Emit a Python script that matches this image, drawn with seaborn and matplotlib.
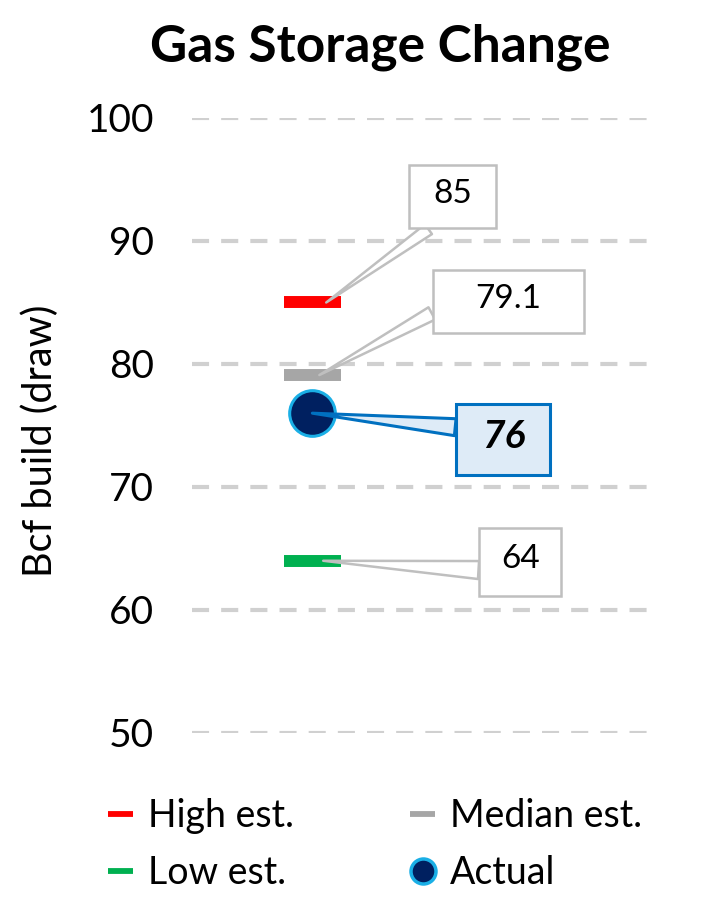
"""
Gas storage change: weekly estimates vs actual, with Excel-style callouts.
Output: out.png
"""

import matplotlib.pyplot as plt
import pandas as pd
import seaborn as sns
from matplotlib.lines import Line2D
from matplotlib.path import Path

# Data
SERIES = ["High est.", "Median est.", "Low est."]
ESTIMATES = [85, 79.1, 64]
ACTUAL_LABEL = "Actual"
ACTUAL = 76
CALLOUT_TEXT = ["85", "79.1", "64"]
ACTUAL_TEXT = "76"
Y_TICKS = [50, 60, 70, 80, 90, 100]

# Styles
COLORS = {"High est.": "#FF0000", "Median est.": "#A6A6A6", "Low est.": "#00B050"}
NAVY = "#002060"
LIGHT_BLUE = "#1AAFE6"
CALLOUT_GRAY = "#BFBFBF"
FS = 24
LEGEND_FS = 27

# callout geometry: tip x nudge (data), text offset (pt), box size (px), relpos, tail width
CALLOUT_GEOM = {
    "High est.": (0.115, (91, 78), (87, 63), (0.6, 0.0), 1.2),
    "Median est.": (0.058, (136, 55), (151, 63), (0.0, 0.8), 1.4),
    "Low est.": (0.09, (142, 1), (82, 68), (0.0, 0.1), 1.8),
}
ACTUAL_GEOM = (0.0, (137.5, -17), (94, 71), (0.0, 0.7), 1.7)


def fixed_box(w_px, h_px, dpi):
    """Box style of fixed pixel size centred on the text."""
    w = w_px * dpi / 100
    h = h_px * dpi / 100

    def box(x0, y0, width, height, mutation_size):
        cx = x0 + width / 2
        cy = y0 + height / 2 - 0.08 * mutation_size
        verts = [
            (cx - w / 2, cy - h / 2),
            (cx + w / 2, cy - h / 2),
            (cx + w / 2, cy + h / 2),
            (cx - w / 2, cy + h / 2),
            (cx - w / 2, cy - h / 2),
        ]
        return Path(verts, closed=True)

    return box


sns.set_theme(style="white")
plt.rcParams["font.family"] = ["Lato", "DejaVu Sans"]
plt.rcParams["text.color"] = "black"
plt.rcParams["ytick.color"] = "black"

fig = plt.figure(figsize=(7.05, 9), dpi=100)
ax = fig.add_axes([0.272, 0.1856, 0.65, 0.6833])

est_df = pd.DataFrame({"series": SERIES, "value": ESTIMATES, "x": 0})
sns.scatterplot(
    data=est_df, x="x", y="value", hue="series", palette=COLORS,
    marker="_", s=1681, linewidth=8.6, legend=False, ax=ax, zorder=3,
)
act_df = pd.DataFrame({"series": [ACTUAL_LABEL], "value": [ACTUAL], "x": 0})
sns.scatterplot(
    data=act_df, x="x", y="value", color=NAVY, marker="o", s=1080,
    edgecolor=LIGHT_BLUE, linewidth=2.2, legend=False, ax=ax, zorder=4,
)

# callouts
for name, val, txt in zip(SERIES, ESTIMATES, CALLOUT_TEXT):
    dx, offset, size, relpos, tail = CALLOUT_GEOM[name]
    ax.annotate(
        txt, xy=(dx, val), xytext=offset, textcoords="offset points",
        ha="center", va="center", fontsize=FS, color="black", zorder=5,
        bbox=dict(boxstyle=fixed_box(*size, fig.dpi), fc="white", ec=CALLOUT_GRAY, lw=1.8),
        arrowprops=dict(arrowstyle=f"wedge,tail_width={tail}", fc="white", ec=CALLOUT_GRAY,
                        lw=1.8, shrinkA=0, shrinkB=0, relpos=relpos, mutation_scale=7.2),
    )
dx, offset, size, relpos, tail = ACTUAL_GEOM
ax.annotate(
    ACTUAL_TEXT, xy=(dx, ACTUAL), xytext=offset, textcoords="offset points",
    ha="center", va="center", fontsize=28, fontweight="bold", fontstyle="italic",
    color="black", zorder=6,
    bbox=dict(boxstyle=fixed_box(*size, fig.dpi), fc="#DEEBF7", ec="#0070C0", lw=2.2),
    arrowprops=dict(arrowstyle=f"wedge,tail_width={tail}", fc="#DEEBF7", ec="#0070C0",
                    lw=2.2, shrinkA=0, shrinkB=0, relpos=relpos, mutation_scale=7.2),
)

ax.set_xlim(-1, 2.8)
ax.set_ylim(50, 100)
ax.set_yticks(Y_TICKS)
ax.set_xticks([])
ax.set_xlabel("")
ax.set_ylabel("")
ax.tick_params(axis="y", length=0, pad=27, labelsize=28)
ax.yaxis.grid(True, color="#D0D0D0", linewidth=3, linestyle=(0, (4.1, 2.9)))
ax.set_axisbelow(True)
for spine in ax.spines.values():
    spine.set_visible(False)

fig.text(0.54, 0.947, "Gas Storage Change", ha="center", va="center",
         fontsize=37, fontweight="bold")
fig.text(0.057, 0.51, "Bcf build (draw)", ha="center", va="center",
         rotation=90, fontsize=28.5)

handles = [
    Line2D([], [], color=COLORS["High est."], lw=4.2, solid_capstyle="butt"),
    Line2D([], [], color=COLORS["Low est."], lw=4.2, solid_capstyle="butt"),
    Line2D([], [], color=COLORS["Median est."], lw=4.2, solid_capstyle="butt"),
    Line2D([], [], ls="none", marker="o", markersize=18, markerfacecolor=NAVY,
           markeredgecolor=LIGHT_BLUE, markeredgewidth=2.5),
]
labels = ["High est.", "Low est.", "Median est.", "Actual"]
fig.legend(handles, labels, ncol=2, loc="upper left", bbox_to_anchor=(0.153, 0.1133),
           frameon=False, fontsize=LEGEND_FS, handlelength=0.67, handletextpad=0.4,
           columnspacing=3.1, labelspacing=0.57, borderpad=0, borderaxespad=0)

fig.savefig("out.png", dpi=100)
